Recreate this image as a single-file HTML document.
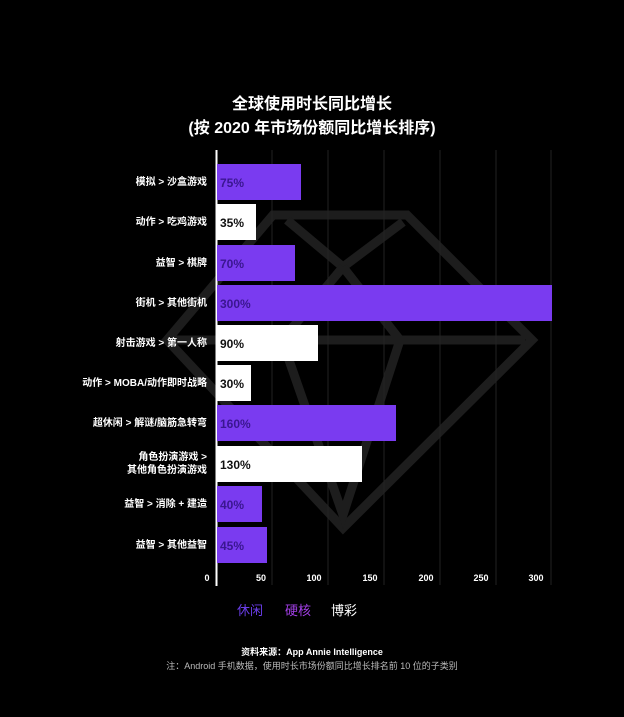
<!DOCTYPE html>
<html><head><meta charset="utf-8"><style>
body{margin:0;background:#000;width:624px;height:717px;overflow:hidden;font-family:"Liberation Sans","Noto Sans CJK SC",sans-serif;}
.t{position:absolute;left:0;width:624px;text-align:center;color:#fff;font-weight:bold;font-size:16px;}
.lab{position:absolute;right:417px;color:#fff;font-weight:bold;font-size:10px;text-align:right;line-height:13px;}
.bar{position:absolute;left:217px;height:36px;}
.v{position:absolute;left:220px;font-weight:bold;font-size:12px;}
.tk{position:absolute;top:573px;color:#fff;font-weight:bold;font-size:9px;width:30px;text-align:center;}
</style></head><body>
<svg width="624" height="717" style="position:absolute;left:0;top:0">
<g stroke="#1d1d1d" stroke-width="9" fill="none" stroke-linejoin="miter">
<polygon points="167,340 273,215 407,215 532,340 343,528"/>
<polyline points="287,220 343,267 403,222"/>
<polyline points="343,267 282,340 343,515 400,340 343,267"/>
<line x1="175" y1="340" x2="525" y2="340"/>
</g>
<g stroke="#222" stroke-width="1">
<line x1="272" y1="150" x2="272" y2="585"/><line x1="328" y1="150" x2="328" y2="585"/>
<line x1="384" y1="150" x2="384" y2="585"/><line x1="440" y1="150" x2="440" y2="585"/>
<line x1="496" y1="150" x2="496" y2="585"/><line x1="551" y1="150" x2="551" y2="585"/>
</g>
<line x1="216.5" y1="150" x2="216.5" y2="586" stroke="#fff" stroke-width="2"/>
</svg>
<div class="t" style="top:90px">全球使用时长同比增长</div>
<div class="t" style="top:114px">(按 2020 年市场份额同比增长排序)</div>

<div class="bar" style="top:164px;width:84px;background:#7a3bf0"></div><div class="v" style="top:176px;color:#3a1690">75%</div><div class="lab" style="top:176px">模拟 &gt; 沙盒游戏</div>
<div class="bar" style="top:204px;width:39px;background:#fff"></div><div class="v" style="top:216px;color:#111">35%</div><div class="lab" style="top:216px">动作 &gt; 吃鸡游戏</div>
<div class="bar" style="top:245px;width:78px;background:#7a3bf0"></div><div class="v" style="top:257px;color:#3a1690">70%</div><div class="lab" style="top:257px">益智 &gt; 棋牌</div>
<div class="bar" style="top:285px;width:335px;background:#7a3bf0"></div><div class="v" style="top:297px;color:#3a1690">300%</div><div class="lab" style="top:297px">街机 &gt; 其他街机</div>
<div class="bar" style="top:325px;width:101px;background:#fff"></div><div class="v" style="top:337px;color:#111">90%</div><div class="lab" style="top:337px">射击游戏 &gt; 第一人称</div>
<div class="bar" style="top:365px;width:34px;background:#fff"></div><div class="v" style="top:377px;color:#111">30%</div><div class="lab" style="top:377px">动作 &gt; MOBA/动作即时战略</div>
<div class="bar" style="top:405px;width:179px;background:#7a3bf0"></div><div class="v" style="top:417px;color:#3a1690">160%</div><div class="lab" style="top:417px">超休闲 &gt; 解谜/脑筋急转弯</div>
<div class="bar" style="top:446px;width:145px;background:#fff"></div><div class="v" style="top:458px;color:#111">130%</div><div class="lab" style="top:451px">角色扮演游戏 &gt;<br>其他角色扮演游戏</div>
<div class="bar" style="top:486px;width:45px;background:#7a3bf0"></div><div class="v" style="top:498px;color:#3a1690">40%</div><div class="lab" style="top:498px">益智 &gt; 消除 + 建造</div>
<div class="bar" style="top:527px;width:50px;background:#7a3bf0"></div><div class="v" style="top:539px;color:#3a1690">45%</div><div class="lab" style="top:539px">益智 &gt; 其他益智</div>

<div class="tk" style="left:192px">0</div><div class="tk" style="left:246px">50</div><div class="tk" style="left:299px">100</div>
<div class="tk" style="left:355px">150</div><div class="tk" style="left:411px">200</div><div class="tk" style="left:466px">250</div><div class="tk" style="left:521px">300</div>

<div style="position:absolute;top:600px;left:237px;font-size:13px;color:#6a3de8">休闲</div>
<div style="position:absolute;top:600px;left:285px;font-size:13px;color:#a23fe6">硬核</div>
<div style="position:absolute;top:600px;left:331px;font-size:13px;color:#fff">博彩</div>
<div style="position:absolute;top:645px;left:0;width:624px;text-align:center;color:#fff;font-size:9px;font-weight:bold">资料来源：App Annie Intelligence</div>
<div style="position:absolute;top:659px;left:0;width:624px;text-align:center;color:#bbb;font-size:9px">注：Android 手机数据，使用时长市场份额同比增长排名前 10 位的子类别</div>
</body></html>
